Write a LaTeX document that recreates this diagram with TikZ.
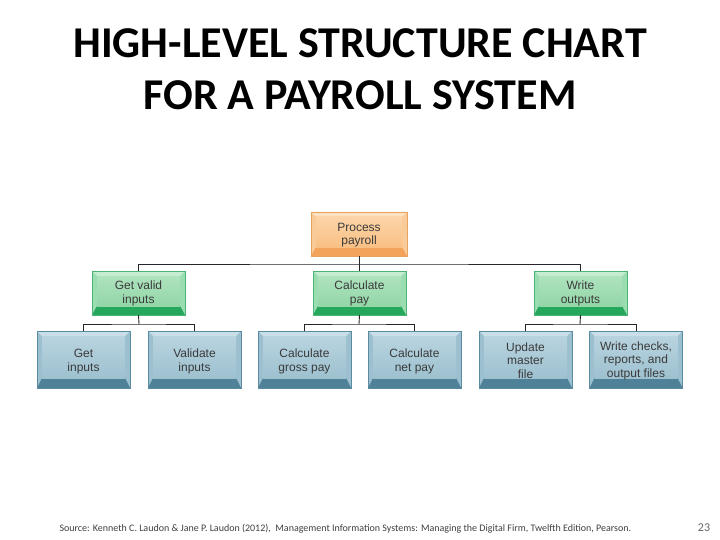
\documentclass[tikz,border=0pt]{standalone}
\usepackage{fontspec}
\setmainfont{Carlito}
\newfontfamily\boxfont{Liberation Sans}
\usetikzlibrary{positioning}

\definecolor{orTop}{HTML}{FDE2C2}
\definecolor{orSide}{HTML}{F9CB98}
\definecolor{orFaceA}{HTML}{FCD4A8}
\definecolor{orFaceB}{HTML}{F9C085}
\definecolor{orBot}{HTML}{F4A45A}
\definecolor{orLine}{HTML}{E8A35E}
\definecolor{grTop}{HTML}{C6EDD2}
\definecolor{grSide}{HTML}{9ADDB0}
\definecolor{grFaceA}{HTML}{AEE3BE}
\definecolor{grFaceB}{HTML}{93D6A7}
\definecolor{grBot}{HTML}{25A75C}
\definecolor{grLine}{HTML}{4DB478}
\definecolor{blTop}{HTML}{C9DEE7}
\definecolor{blSide}{HTML}{9CC0CF}
\definecolor{blFaceA}{HTML}{B8D3DF}
\definecolor{blFaceB}{HTML}{9EC1D0}
\definecolor{blBot}{HTML}{4F8198}
\definecolor{blLine}{HTML}{5B8BA0}
\definecolor{txt}{HTML}{3A3A3A}

\tikzset{
  bevel/.style n args={6}{path picture={
    \fill[#2] (path picture bounding box.south west) rectangle (path picture bounding box.north east);
    \fill[#1] (path picture bounding box.north west) -- (path picture bounding box.north east)
      -- ([xshift=-5pt,yshift=-5pt]path picture bounding box.north east)
      -- ([xshift=5pt,yshift=-5pt]path picture bounding box.north west) -- cycle;
    \fill[#5] (path picture bounding box.south west) -- (path picture bounding box.south east)
      -- ([xshift=-5pt,yshift=#6]path picture bounding box.south east)
      -- ([xshift=5pt,yshift=#6]path picture bounding box.south west) -- cycle;
    \shade[top color=#3, bottom color=#4]
      ([xshift=5pt,yshift=-5pt]path picture bounding box.north west)
      rectangle ([xshift=-5pt,yshift=#6]path picture bounding box.south east);
  }},
}
\tikzstyle{top} = [rectangle, draw=orLine, bevel={orTop}{orSide}{orFaceA}{orFaceB}{orBot}{9pt},
    minimum width=96pt, minimum height=44pt, inner sep=0pt]
\tikzstyle{mid} = [rectangle, draw=grLine, bevel={grTop}{grSide}{grFaceA}{grFaceB}{grBot}{9pt},
    minimum width=93pt, minimum height=44pt, inner sep=0pt]
\tikzstyle{low} = [rectangle, draw=blLine, bevel={blTop}{blSide}{blFaceA}{blFaceB}{blBot}{10pt},
    minimum width=93pt, minimum height=57pt, inner sep=0pt]
\tikzstyle{label} = [font=\boxfont\fontsize{12}{13.5}\selectfont, text=txt, align=center]
\tikzstyle{line} = [draw, line width=0.9pt, black!85]

\begin{document}
\begin{tikzpicture}[x=1pt, y=-1pt]
    \useasboundingbox[fill=white] (0,0) rectangle (720,540);

    \node[font=\bfseries\fontsize{44}{52}\selectfont, align=center] (title) at (360,69)
        {HIGH-LEVEL STRUCTURE CHART\\FOR A PAYROLL SYSTEM};

    % level 1
    \node[top] (proc) at (359,234) {};
    \node[label] at ([yshift=-1pt]proc) {Process\\payroll};

    % level 2
    \node[mid] (getvalid) at (138.5,293) {};
    \node[mid] (calcpay) at (359.5,293) {};
    \node[mid] (writeout) at (580.5,293) {};
    \node[label] at ([yshift=-0.5pt]getvalid) {Get valid\\inputs};
    \node[label] at ([yshift=-0.5pt]calcpay) {Calculate\\pay};
    \node[label] at ([yshift=-0.5pt]writeout) {Write\\outputs};

    % level 3
    \node[low] (getin) at (83.5,359.5) {};
    \node[low] (valin) at (194.5,359.5) {};
    \node[low] (gross) at (304.5,359.5) {};
    \node[low] (net) at (414.5,359.5) {};
    \node[low] (master) at (525.5,359.5) {};
    \node[low] (checks) at (636,359.5) {};
    \node[label] at ([yshift=-2pt]getin) {Get\\inputs};
    \node[label] at ([yshift=-2pt]valin) {Validate\\inputs};
    \node[label] at ([yshift=-2pt]gross) {Calculate\\gross pay};
    \node[label] at ([yshift=-2pt]net) {Calculate\\net pay};
    \node[label] at ([yshift=-1pt]master) {Update\\master\\file};
    \node[label] at ([yshift=-1pt]checks) {Write checks,\\reports, and\\output files};

    % connectors
    \coordinate (bus1) at (359,264);
    \coordinate (bus2) at (139,324);
    \coordinate (bus3) at (359,324);
    \coordinate (bus4) at (580,324);

    \path [line] (proc.south) -- (bus1);
    \path [line] (getvalid.north) |- (bus1) -| (writeout.north);
    \path [line] (calcpay.north) -- (calcpay.north |- bus1);

    \path [line] (getvalid.south) -- (bus2);
    \path [line] (getin.north) |- (bus2) -| (valin.north);
    \path [line] (calcpay.south) -- (bus3);
    \path [line] (gross.north) |- (bus3) -| (net.north);
    \path [line] (writeout.south) -- (bus4);
    \path [line] (master.north) |- (bus4) -| (checks.north);

    % footer
    \node[font=\fontsize{10}{12}\selectfont, text=black!75, anchor=west] (source) at (56,529)
        {Source: Kenneth C. Laudon \& Jane P. Laudon (2012),\ \ Management Information Systems: Managing the Digital Firm, Twelfth Edition, Pearson.};
    \node[font=\fontsize{12}{14}\selectfont, text=black!60] (page) at (704,528) {23};
\end{tikzpicture}
\end{document}
